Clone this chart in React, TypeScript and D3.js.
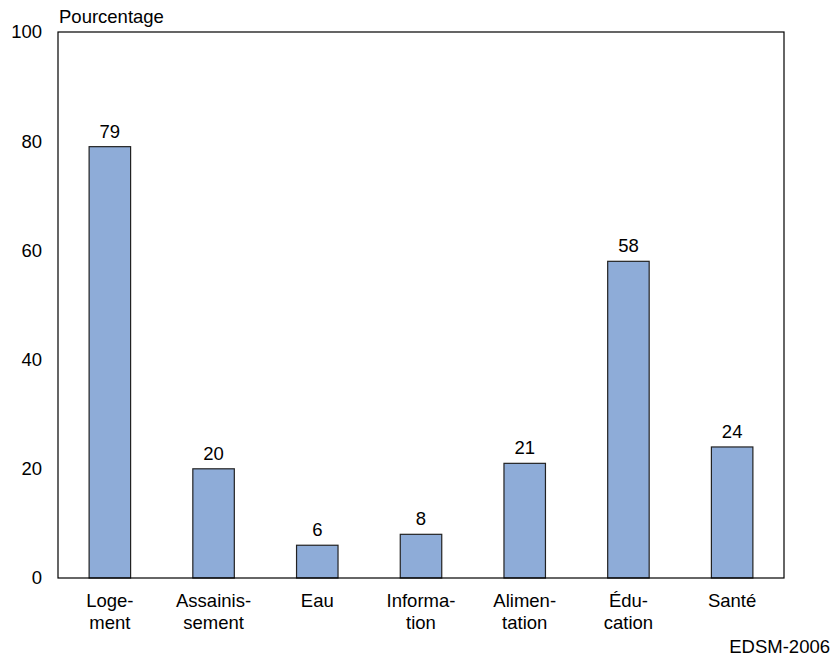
import React from "react";
import * as d3 from "d3";

const categories = ["Logement", "Assainissement", "Eau", "Information", "Alimentation", "Éducation", "Santé"];
const labelLines = [["Loge-", "ment"], ["Assainis-", "sement"], ["Eau"], ["Informa-", "tion"], ["Alimen-", "tation"], ["Édu-", "cation"], ["Santé"]];
const values = [79, 20, 6, 8, 21, 58, 24];
const yTicks = [0, 20, 40, 60, 80, 100];

export default function App() {
  const W = 835, H = 660;
  const left = 58, right = 784, top = 32, bottom = 578;
  const x = d3.scaleBand<string>().domain(categories).range([left, right]).paddingInner(0.6).paddingOuter(0.3);
  const y = d3.scaleLinear().domain([0, 100]).range([bottom, top]);
  const font = "Liberation Sans, Arial, sans-serif";
  const fs = 18.5;
  return (
    <svg width={W} height={H} style={{ position: "absolute", left: 0, top: 0 }} fontFamily={font}>
      <rect x={0} y={0} width={W} height={H} fill="#fff" />
      <text x={59} y={23} fontSize={fs} fill="#000">Pourcentage</text>
      {yTicks.map((t) => (
        <text key={t} x={42} y={y(t)} dy="0.35em" textAnchor="end" fontSize={fs} fill="#000">{t}</text>
      ))}
      {categories.map((c, i) => (
        <g key={c}>
          <rect x={x(c)} y={y(values[i])} width={x.bandwidth()} height={bottom - y(values[i])} fill="#8EACD8" stroke="#222" strokeWidth={1.2} />
          <text x={x(c)! + x.bandwidth() / 2} y={y(values[i]) - 9} textAnchor="middle" fontSize={fs} fill="#000">{values[i]}</text>
          {labelLines[i].map((l, j) => (
            <text key={j} x={x(c)! + x.bandwidth() / 2} y={607 + j * 22} textAnchor="middle" fontSize={fs} fill="#000">{l}</text>
          ))}
        </g>
      ))}
      <rect x={left} y={top} width={right - left} height={bottom - top} fill="none" stroke="#000" strokeWidth={1.2} />
      <text x={830} y={653} textAnchor="end" fontSize={fs} fill="#000">EDSM-2006</text>
    </svg>
  );
}
